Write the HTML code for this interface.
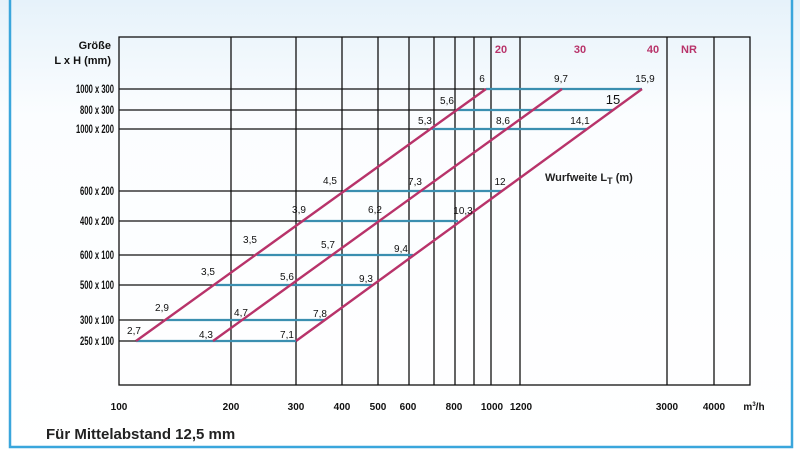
<!DOCTYPE html>
<html><head><meta charset="utf-8"><style>
html,body{margin:0;padding:0;width:800px;height:459px;overflow:hidden;background:#fff}
</style></head><body>
<svg width="800" height="459" xmlns="http://www.w3.org/2000/svg" font-family="Liberation Sans, sans-serif">
<defs><linearGradient id="g" x1="0" y1="0" x2="0" y2="1"><stop offset="0" stop-color="#e6f2fa"/><stop offset="0.25" stop-color="#fbfdff"/><stop offset="1" stop-color="#ffffff"/></linearGradient></defs>
<rect x="0" y="0" width="800" height="459" fill="url(#g)"/>
<path d="M10,0 V447 H792 V0" fill="none" stroke="#3aa6dc" stroke-width="2.5"/>
<g stroke="#111" stroke-width="1.3" fill="none">
<rect x="119" y="37" width="631" height="348"/>
<path d="M231,37V385M296,37V385M342,37V385M378,37V385M409,37V385M434,37V385M455,37V385M474,37V385M491,37V385M520,37V385M667,37V385M714,37V385"/>
<path d="M119,89H486M119,110H457M119,129H432M119,191H344M119,221H302M119,255H257M119,285H216M119,320H165M119,341H136"/>
</g>
<g stroke="#3b8fb0" stroke-width="2.2">
<path d="M486,89H642M457,110H613M432,129H587M344,191H502M302,221H458M257,255H413M216,285H372M165,320H325M136,341H296"/>
</g>
<g stroke="#b8336a" stroke-width="2.4">
<path d="M136,341L486,89M213,341L562,89M296,341L642,89"/>
</g>
<g font-size="11" fill="#111" text-anchor="end" font-weight="bold">
<text x="111" y="49">Größe</text>
<text x="111" y="64">L x H (mm)</text>
</g>
<g font-size="12" fill="#111" text-anchor="end" font-weight="bold">
<text x="114" y="93" textLength="38" lengthAdjust="spacingAndGlyphs">1000 x 300</text>
<text x="114" y="114" textLength="34" lengthAdjust="spacingAndGlyphs">800 x 300</text>
<text x="114" y="133" textLength="38" lengthAdjust="spacingAndGlyphs">1000 x 200</text>
<text x="114" y="195" textLength="34" lengthAdjust="spacingAndGlyphs">600 x 200</text>
<text x="114" y="225" textLength="34" lengthAdjust="spacingAndGlyphs">400 x 200</text>
<text x="114" y="259" textLength="34" lengthAdjust="spacingAndGlyphs">600 x 100</text>
<text x="114" y="289" textLength="34" lengthAdjust="spacingAndGlyphs">500 x 100</text>
<text x="114" y="324" textLength="34" lengthAdjust="spacingAndGlyphs">300 x 100</text>
<text x="114" y="345" textLength="34" lengthAdjust="spacingAndGlyphs">250 x 100</text>
</g>
<g font-size="10" fill="#111" text-anchor="middle">
<text x="482" y="82">6</text><text x="561" y="82">9,7</text><text x="645" y="82">15,9</text>
<text x="447" y="104">5,6</text>
<text x="425" y="124">5,3</text><text x="503" y="124">8,6</text><text x="580" y="124">14,1</text>
<text x="330" y="184">4,5</text><text x="415" y="185">7,3</text><text x="500" y="185">12</text>
<text x="299" y="213">3,9</text><text x="375" y="213">6,2</text><text x="463" y="214">10,3</text>
<text x="250" y="243">3,5</text><text x="328" y="248">5,7</text><text x="401" y="252">9,4</text>
<text x="208" y="275">3,5</text><text x="287" y="280">5,6</text><text x="366" y="282">9,3</text>
<text x="162" y="311">2,9</text><text x="241" y="316">4,7</text><text x="320" y="317">7,8</text>
<text x="134" y="334">2,7</text><text x="206" y="338">4,3</text><text x="287" y="338">7,1</text>
</g>
<text x="613" y="104" font-size="13" text-anchor="middle" fill="#111">15</text>
<text x="545" y="181" font-size="11" font-weight="bold" fill="#222">Wurfweite L<tspan font-size="9" dy="3">T</tspan><tspan dy="-3"> (m)</tspan></text>
<g font-size="11" font-weight="bold" fill="#b8336a" text-anchor="middle">
<text x="501" y="53">20</text><text x="580" y="53">30</text><text x="653" y="53">40</text><text x="681" y="53" text-anchor="start">NR</text>
</g>
<g font-size="10" fill="#111" text-anchor="middle" font-weight="bold">
<text x="119" y="410">100</text><text x="231" y="410">200</text><text x="296" y="410">300</text><text x="342" y="410">400</text><text x="378" y="410">500</text><text x="408" y="410">600</text><text x="454" y="410">800</text><text x="492" y="410">1000</text><text x="521" y="410">1200</text><text x="667" y="410">3000</text><text x="714" y="410">4000</text><text x="754" y="410">m<tspan font-size="6" dy="-4">3</tspan><tspan dy="4">/h</tspan></text>
</g>
<text x="46" y="439" font-size="15" font-weight="bold" fill="#222">Für Mittelabstand 12,5 mm</text>
</svg>
</body></html>
